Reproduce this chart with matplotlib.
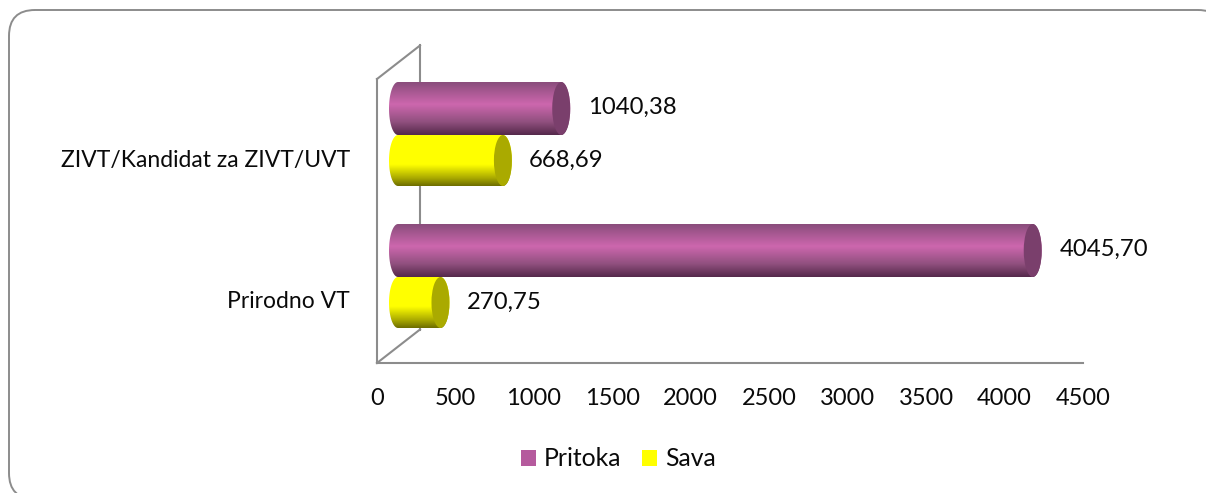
import numpy as np
import matplotlib
matplotlib.use("Agg")
import matplotlib.pyplot as plt
from matplotlib.colors import LinearSegmentedColormap
from matplotlib.patches import Ellipse, FancyBboxPatch, Patch, Polygon

plt.rcParams['font.family'] = ['Lato', 'DejaVu Sans']

# --- data ---
categories = ["Prirodno VT", "ZIVT/Kandidat za ZIVT/UVT"]
pritoka = [4045.70, 1040.38]
sava = [270.75, 668.69]
x_ticks = [0, 500, 1000, 1500, 2000, 2500, 3000, 3500, 4000, 4500]

W, H = 1206, 493
GRAY = "#8c8c8c"
TXT = "#0a0a0a"
FS = 17

# fake 3D depth, in px, converted to data units below
PX_X = 4500 / (1083 - 377)
PX_Y = 2 / (363 - 79)
depth_x = 21 * PX_X
depth_y = 15 * PX_Y
wall_x = 43 * PX_X
wall_y = 33.5 * PX_Y
cap_w = 9 * PX_X

purple_cm = LinearSegmentedColormap.from_list("p", [(0, "#8a4d7c"), (0.42, "#cd67ae"), (0.75, "#91507f"), (1, "#55294b")])
yellow_cm = LinearSegmentedColormap.from_list("y", [(0, "#ffff00"), (0.58, "#ffff00"), (0.85, "#a8a800"), (1, "#6e6e00")])

fig = plt.figure(figsize=(W / 100, H / 100), dpi=100)

# rounded frame around the chart, runs off the right and bottom edges
bg = fig.add_axes([0, 0, 1, 1])
bg.set_xlim(0, W)
bg.set_ylim(H, 0)
bg.axis('off')
bg.add_patch(FancyBboxPatch((9 + 26, 10 + 26), 1224 - 9 - 52, 499 - 10 - 52,
                            boxstyle="round,pad=26,rounding_size=26",
                            fc="white", ec=GRAY, lw=1.4))

ax = fig.add_axes([377 / W, 1 - 363 / H, (1083 - 377) / W, (363 - 79) / H])
ax.patch.set_alpha(0)


def cylinder(val, y0, y1, cmap, cap_color):
    # body with a vertical gradient, clipped to the rounded outline
    left = depth_x
    right = val + depth_x
    yc = (y0 + y1) / 2
    hh = (y1 - y0) / 2
    t = np.linspace(-np.pi / 2, np.pi / 2, 40)
    outline = np.vstack([
        np.c_[right + cap_w * np.cos(t), yc + hh * np.sin(t)],
        np.c_[left - cap_w * np.cos(t[::-1]), yc + hh * np.sin(t[::-1])],
    ])
    grad = np.linspace(0, 1, 200).reshape(-1, 1)
    im = ax.imshow(grad, cmap=cmap, aspect='auto', extent=(left - cap_w, right + cap_w, y0, y1),
                   origin='upper', zorder=4, interpolation='bilinear')
    clip = Polygon(outline, closed=True, transform=ax.transData, fc='none', ec='none')
    ax.add_patch(clip)
    im.set_clip_path(clip)
    ax.add_patch(Ellipse((right, yc), 2 * cap_w, y1 - y0, fc=cap_color, ec='none', zorder=5))


for i in range(len(categories)):
    yc = i + depth_y
    cylinder(sava[i], yc - 51 * PX_Y, yc, yellow_cm, "#aaaa00")
    cylinder(pritoka[i], yc, yc + 53 * PX_Y, purple_cm, "#7a3f6c")
    ax.text(pritoka[i] + depth_x + 27 * PX_X, yc + 28 * PX_Y, f"{pritoka[i]:.2f}".replace('.', ','),
            fontsize=FS + 0.2, color=TXT, va='center', ha='left', zorder=6)
    ax.text(sava[i] + depth_x + 26 * PX_X, yc - 25 * PX_Y, f"{sava[i]:.2f}".replace('.', ','),
            fontsize=FS + 0.2, color=TXT, va='center', ha='left', zorder=6)

# back wall lines
ax.plot([wall_x, wall_x], [wall_y - 0.5, 1.5 + wall_y], color=GRAY, lw=1.5, clip_on=False, zorder=1)
ax.plot([0, wall_x], [-0.5, wall_y - 0.5], color=GRAY, lw=1.5, clip_on=False, zorder=1)
ax.plot([0, wall_x], [1.5, 1.5 + wall_y], color=GRAY, lw=1.5, clip_on=False, zorder=1)

ax.set_xlim(0, 4500)
ax.set_ylim(-0.5, 1.5)
for s in ['top', 'right']:
    ax.spines[s].set_visible(False)
for s in ['left', 'bottom']:
    ax.spines[s].set_color(GRAY)
    ax.spines[s].set_linewidth(1.5)
    ax.spines[s].set_zorder(1)

ax.set_xticks(x_ticks)
ax.set_yticks([i - 8 * PX_Y for i in range(len(categories))])
ax.set_yticklabels(categories)
ax.tick_params(axis='x', length=0, pad=18, labelsize=FS, labelcolor=TXT)
ax.tick_params(axis='y', length=0, pad=19.5, labelsize=16.5, labelcolor=TXT)

handles = [Patch(fc="#b55a9d", ec='none', label="Pritoka"), Patch(fc="#ffff00", ec='none', label="Sava")]
fig.legend(handles=handles, loc='center', bbox_to_anchor=(618.5 / W, 1 - 459 / H), ncol=2, frameon=False,
           fontsize=17.8, labelcolor=TXT, handlelength=0.61, handleheight=0.61, handletextpad=0.3,
           columnspacing=0.85, borderpad=0)

fig.savefig("out.png", dpi=100)
